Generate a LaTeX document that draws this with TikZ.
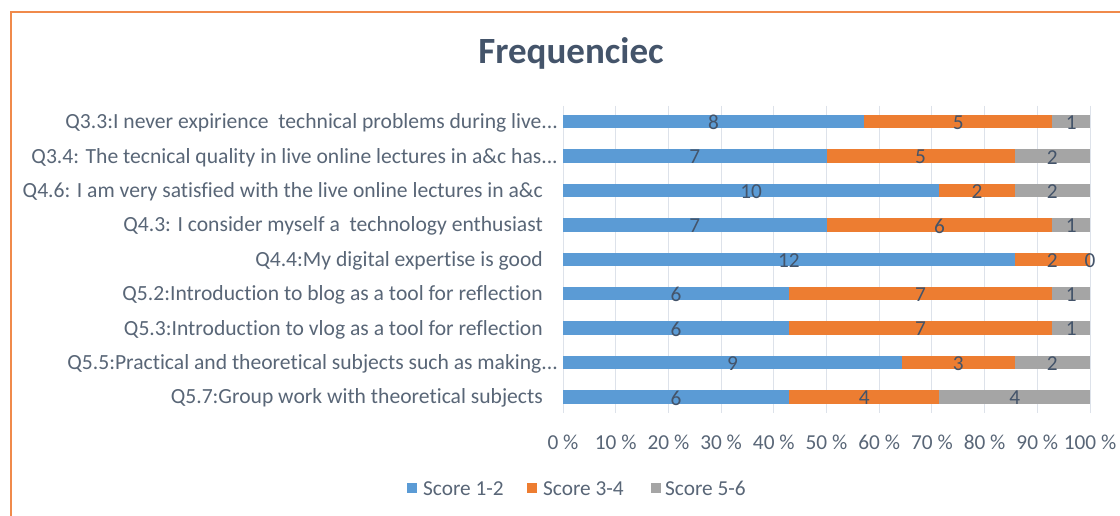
\documentclass[tikz,border=0pt]{standalone}
\usepackage{fontspec}
\setmainfont{Carlito}[Ligatures=CommonOff]
\definecolor{blueS}{HTML}{5B9BD5}
\definecolor{orangeS}{HTML}{ED7D31}
\definecolor{grayS}{HTML}{A5A5A5}
\definecolor{frameC}{HTML}{F08A4B}
\definecolor{gridC}{HTML}{DDE2EA}
\definecolor{txtC}{HTML}{596677}
\definecolor{datC}{HTML}{44546A}
\tikzset{
  frameline/.style={draw=frameC, line width=2.2pt},
  gridline/.style={draw=gridC, line width=0.9pt},
  qlabel/.style={anchor=base east, inner sep=0pt, text=txtC, font=\fontsize{21.6}{25}\selectfont},
  dlabel/.style={anchor=center, inner sep=0pt, text=datC, font=\fontsize{21.3}{25}\selectfont},
  axlabel/.style={anchor=base, inner sep=0pt, text=txtC, font=\fontsize{21.3}{25}\selectfont},
  leglabel/.style={anchor=base west, inner sep=0pt, text=txtC, font=\fontsize{21.3}{25}\selectfont},
  titlelabel/.style={anchor=center, inner sep=0pt, text=datC, font=\fontsize{37}{42}\selectfont\bfseries},
}
\begin{document}
\begin{tikzpicture}[x=1pt,y=-1pt]
\useasboundingbox (0,0) rectangle (1120,516);
\fill[white] (0,0) rectangle (1120,516);
\clip (0,0) rectangle (1120,516);
\draw[frameline] (11,530) -- (11,12) -- (1140,12);
\node[titlelabel] (title) at (571,53) {Frequenciec};
% grid and axis labels
\foreach \i in {0,...,10} {
  \pgfmathsetmacro\gx{563+52.7*\i}
  \pgfmathtruncatemacro\pc{10*\i}
  \draw[gridline] (\gx,106) -- (\gx,413);
  \node[axlabel] (ax\i) at (\gx,449) {\pc\ \%};
}
% bars
\foreach \a/\b/\c [count=\k from 0] in {8/5/1,7/5/2,10/2/2,7/6/1,12/2/0,6/7/1,6/7/1,9/3/2,6/4/4} {
  \pgfmathsetmacro\yc{121.7+34.4*\k}
  \pgfmathsetmacro\xa{563+37.643*\a}
  \pgfmathsetmacro\xb{563+37.643*(\a+\b)}
  \fill[blueS] (563,\yc-6.7) rectangle (\xa,\yc+6.7);
  \fill[orangeS] (\xa,\yc-6.7) rectangle (\xb,\yc+6.7);
  \fill[grayS] (\xb,\yc-6.7) rectangle (1090,\yc+6.7);
  \node[dlabel] (d1\k) at ({(563+\xa)/2},\yc+1) {\a};
  \node[dlabel] (d2\k) at ({(\xa+\xb)/2},\yc+1) {\b};
  \node[dlabel] (d3\k) at ({(\xb+1090)/2},\yc+1) {\c};
}
% category labels
\foreach \t/\ax [count=\k from 0] in {
  {Q3.3:I never expirience~ technical problems during live...}/558,
  {Q3.4: The tecnical quality in live online lectures in a\&c has...}/558,
  {Q4.6: I am very satisfied with the live online lectures in a\&c}/543,
  {Q4.3: I consider myself a~ technology enthusiast}/543,
  {Q4.4:My digital expertise is good}/543,
  {Q5.2:Introduction to blog as a tool for reflection}/543,
  {Q5.3:Introduction to vlog as a tool for reflection}/543,
  {Q5.5:Practical and theoretical subjects such as making...}/558,
  {Q5.7:Group work with theoretical subjects}/543} {
  \pgfmathsetmacro\yc{121.7+34.4*\k}
  \node[qlabel] (q\k) at (\ax,\yc+7) {\t};
}
% legend
\fill[blueS] (407,483) rectangle (417,493);
\node[leglabel] (l1) at (423,495) {Score 1-2};
\fill[orangeS] (527,483) rectangle (537,493);
\node[leglabel] (l2) at (543,495) {Score 3-4};
\fill[grayS] (651,483) rectangle (661,493);
\node[leglabel] (l3) at (665,495) {Score 5-6};
\end{tikzpicture}
\end{document}
